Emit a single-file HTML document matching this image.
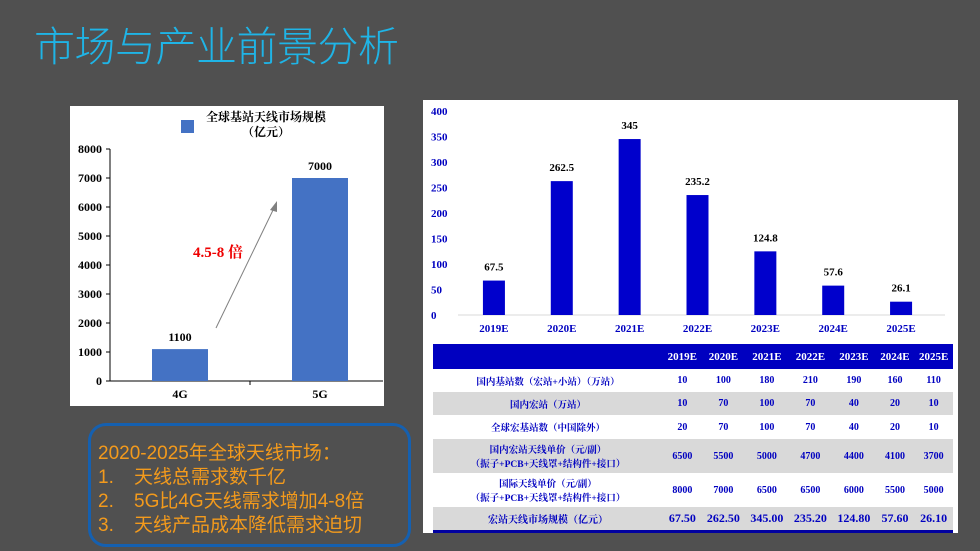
<!DOCTYPE html>
<html><head><meta charset="utf-8">
<style>
body{margin:0;width:980px;height:551px;background:#505050;position:relative;overflow:hidden;font-family:"Liberation Sans","Noto Sans CJK SC",sans-serif}
#title{position:absolute;left:34px;top:13px;font-size:41px;color:#1fb4e6;font-family:"Liberation Sans","Noto Sans CJK SC",sans-serif;font-weight:300;letter-spacing:-0.5px;white-space:nowrap}
.panel{position:absolute;background:#fff}
#callout{position:absolute;left:88px;top:423px;width:323px;height:124px;border:3px solid #1560b0;border-radius:18px;box-sizing:border-box;color:#f39a1c;font-size:19px;line-height:24px;padding:16px 0 0 7px;white-space:nowrap}
#callout span{display:inline-block;width:36px}
table{position:absolute;left:433px;top:344px;width:520px;border-collapse:collapse;font-family:"Liberation Serif","Noto Serif CJK SC",serif;font-weight:bold;color:#0000c0;font-size:10px;text-align:center}
td{padding:0;white-space:nowrap}
tr.h td{background:#0000c0;color:#fff;font-size:11px;height:25px}
tr.g td{background:#d9d9d9}
tr.last td{font-size:12px;border-bottom:3px solid #0000a0}
tr.last td.l{font-size:10px}
td.l{width:230px;font-size:9.5px}
</style></head><body>
<div id="title">市场与产业前景分析</div>

<div class="panel" style="left:70px;top:106px;width:314px;height:300px">
<svg id="left" width="314" height="300"></svg>
</div>

<div class="panel" style="left:423px;top:100px;width:535px;height:433px">
<svg id="right" width="535" height="240"></svg>
</div>

<table>
<tr class="h"><td class="l"></td><td>2019E</td><td>2020E</td><td>2021E</td><td>2022E</td><td>2023E</td><td>2024E</td><td>2025E</td></tr>
<tr style="height:23px"><td class="l">国内基站数（宏站+小站）（万站）</td><td>10</td><td>100</td><td>180</td><td>210</td><td>190</td><td>160</td><td>110</td></tr>
<tr class="g" style="height:23px"><td class="l">国内宏站（万站）</td><td>10</td><td>70</td><td>100</td><td>70</td><td>40</td><td>20</td><td>10</td></tr>
<tr style="height:24px"><td class="l">全球宏基站数（中国除外）</td><td>20</td><td>70</td><td>100</td><td>70</td><td>40</td><td>20</td><td>10</td></tr>
<tr class="g" style="height:34px"><td class="l">国内宏站天线单价（元/副）<br>（振子+PCB+天线罩+结构件+接口）</td><td>6500</td><td>5500</td><td>5000</td><td>4700</td><td>4400</td><td>4100</td><td>3700</td></tr>
<tr style="height:34px"><td class="l">国际天线单价（元/副）<br>（振子+PCB+天线罩+结构件+接口）</td><td>8000</td><td>7000</td><td>6500</td><td>6500</td><td>6000</td><td>5500</td><td>5000</td></tr>
<tr class="g last" style="height:24px"><td class="l">宏站天线市场规模（亿元）</td><td>67.50</td><td>262.50</td><td>345.00</td><td>235.20</td><td>124.80</td><td>57.60</td><td>26.10</td></tr>
</table>

<div id="callout">2020-2025年全球天线市场：<br><span>1.</span>天线总需求数千亿<br><span>2.</span>5G比4G天线需求增加4-8倍<br><span>3.</span>天线产品成本降低需求迫切</div>

<script>
const leftCats=["4G","5G"];
const leftVals=[1100,7000];
const leftTicks=[0,1000,2000,3000,4000,5000,6000,7000,8000];
const rightCats=["2019E","2020E","2021E","2022E","2023E","2024E","2025E"];
const rightVals=[67.5,262.5,345,235.2,124.8,57.6,26.1];
const rightLabels=["67.5","262.5","345","235.2","124.8","57.6","26.1"];
const rightTicks=[0,50,100,150,200,250,300,350,400];
const NS="http://www.w3.org/2000/svg";
function mk(p,t,a,txt){const e=document.createElementNS(NS,t);for(const k in a)e.setAttribute(k,a[k]);if(txt!==undefined)e.textContent=txt;p.appendChild(e);return e;}
const serif='"Liberation Serif","Noto Serif CJK SC",serif';
// left chart
(function(){
const s=document.getElementById('left');
const x0=40,x1=320,y0=275,yTop=43,max=8000;
const y=v=>y0-(v/max)*(y0-yTop);
const bw=(x1-x0)/leftCats.length;
const bx=i=>x0+bw*(i+0.5);
mk(s,'line',{x1:x0,y1:yTop,x2:x0,y2:y0,stroke:'#000','stroke-width':1});
mk(s,'line',{x1:x0,y1:y0,x2:313,y2:y0,stroke:'#000','stroke-width':1});
mk(s,'line',{x1:x0+bw,y1:y0,x2:x0+bw,y2:y0+4,stroke:'#000'});
leftTicks.forEach(t=>{
 mk(s,'line',{x1:x0-4,y1:y(t),x2:x0,y2:y(t),stroke:'#000'});
 const e=mk(s,'text',{x:x0-8,y:y(t)+4,'text-anchor':'end','font-size':12,'font-weight':'bold','font-family':serif},t);
 
});
leftVals.forEach((v,i)=>{
 const r=mk(s,'rect',{x:bx(i)-28,y:y(v),width:56,height:y0-y(v),fill:'#4472c4'});
 
 mk(s,'text',{x:bx(i),y:y(v)-8,'text-anchor':'middle','font-size':12,'font-weight':'bold','font-family':serif},v);
 mk(s,'text',{x:bx(i),y:y0+17,'text-anchor':'middle','font-size':12,'font-weight':'bold','font-family':serif},leftCats[i]);
});
mk(s,'rect',{x:111,y:14,width:13,height:13,fill:'#4472c4'});
mk(s,'text',{x:196,y:15,'text-anchor':'middle','font-size':12,'font-weight':'bold','font-family':serif},'全球基站天线市场规模');
mk(s,'text',{x:196,y:30,'text-anchor':'middle','font-size':12,'font-weight':'bold','font-family':serif},'（亿元）');
mk(s,'line',{x1:146,y1:222,x2:205,y2:100,stroke:'#808080','stroke-width':1});
mk(s,'polygon',{points:'207,95 200,104 207,106',fill:'#808080'});
mk(s,'text',{x:123,y:151,'font-size':15,'font-weight':'bold',fill:'#e00','font-family':serif},'4.5-8 倍');
})();
// right chart
(function(){
const s=document.getElementById('right');
const x0=37,x1=512,y0=215,yTop=11,max=400;
const y=v=>y0-(v/max)*(y0-yTop);
const bw=(x1-x0)/rightCats.length;
const bx=i=>x0+bw*(i+0.5);
rightTicks.forEach(t=>{
 const e=mk(s,'text',{x:8,y:y(t)+4,'font-size':11,'font-weight':'bold',fill:'#0000c0','font-family':serif},t);
 
});
mk(s,'line',{x1:x0-2,y1:y0,x2:x1+10,y2:y0,stroke:'#d9d9d9'});
rightVals.forEach((v,i)=>{
 const r=mk(s,'rect',{x:bx(i)-11,y:y(v),width:22,height:y0-y(v),fill:'#0000cc'});
 
 mk(s,'text',{x:bx(i),y:y(v)-10,'text-anchor':'middle','font-size':11,'font-weight':'bold','font-family':serif},rightLabels[i]);
 mk(s,'text',{x:bx(i),y:y0+17,'text-anchor':'middle','font-size':11,'font-weight':'bold',fill:'#0000c0','font-family':serif},rightCats[i]);
});
})();
</script>
</body></html>
